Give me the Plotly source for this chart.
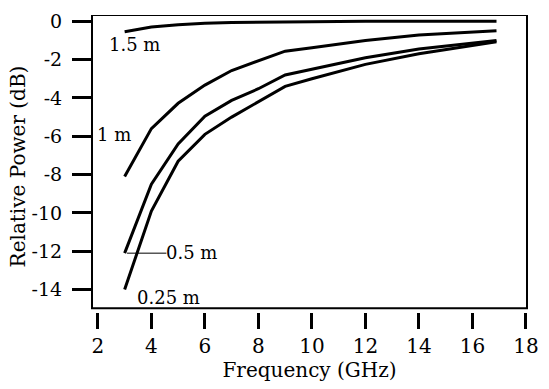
import plotly.graph_objects as go

# Frequencies (GHz) at which the curves were read
freq = [3, 4, 5, 6, 7, 8, 9, 10, 12, 14, 16, 16.9]

# Relative power (dB) for each separation distance
p_025 = [-14.0, -9.9, -7.3, -5.9, -5.0, -4.2, -3.4, -3.0, -2.25, -1.7, -1.28, -1.07]
p_05  = [-12.1, -8.5, -6.4, -4.95, -4.13, -3.52, -2.8, -2.5, -1.9, -1.45, -1.14, -1.0]
p_1   = [-8.1, -5.6, -4.28, -3.33, -2.57, -2.06, -1.56, -1.38, -1.0, -0.72, -0.57, -0.5]
p_15  = [-0.55, -0.3, -0.18, -0.1, -0.06, -0.04, -0.03, -0.02, 0.0, 0.0, 0.0, 0.0]

series = [("0.25 m", p_025), ("0.5 m", p_05), ("1 m", p_1), ("1.5 m", p_15)]

x_ticks = [2, 4, 6, 8, 10, 12, 14, 16, 18]
y_ticks = [0, -2, -4, -6, -8, -10, -12, -14]
y_tick_text = ["0", "-2", "-4", "-6", "-8", "-10", "-12", "-14"]

# curve labels: (text, x, y)
labels = [("1.5 m", 3.35, -1.23), ("1 m", 2.62, -5.9),
          ("0.5 m", 5.49, -12.07), ("0.25 m", 4.65, -14.39)]

FONT = "DejaVu Serif"

fig = go.Figure()
for name, vals in series:
    fig.add_trace(go.Scatter(x=freq, y=vals, mode="lines", name=name,
                             line=dict(color="black", width=3),
                             showlegend=False))

for text, lx, ly in labels:
    fig.add_annotation(x=lx, y=ly, text=text, showarrow=False,
                       font=dict(family=FONT, size=18, color="black"))

# y-axis title placed as rotated text
fig.add_annotation(text="Relative Power (dB)", textangle=-90, showarrow=False,
                   xref="paper", yref="paper", x=-0.168, y=0.49,
                   xanchor="center", yanchor="middle",
                   font=dict(family=FONT, size=20, color="black"))

# leader line for the 0.5 m label
fig.add_shape(type="line", x0=3.09, x1=4.56, y0=-12.1, y1=-12.1,
              line=dict(color="black", width=1))

# plot frame (separated from the x ticks)
fig.add_shape(type="rect", xref="paper", x0=0, x1=1, yref="y",
              y0=-14.98, y1=0.327, line=dict(color="black", width=2),
              layer="above")

fig.update_layout(
    width=549, height=389,
    margin=dict(l=92, r=10, t=13, b=77),
    paper_bgcolor="white", plot_bgcolor="white",
    font=dict(family=FONT, size=20, color="black"),
    xaxis=dict(range=[1.78, 18.04], tickvals=x_ticks, ticks="outside",
               ticklen=16, tickwidth=3, tickcolor="black",
               showgrid=False, zeroline=False, showline=False,
               ticklabeloverflow="allow",
               title=dict(text="Frequency (GHz)", font=dict(size=20), standoff=5),
               tickfont=dict(size=20)),
    yaxis=dict(range=[-15.17, 0.327], tickvals=y_ticks,
               ticktext=[t + "\u00a0" for t in y_tick_text],
               ticks="outside", ticklen=19, tickwidth=3, tickcolor="black",
               showgrid=False, zeroline=False, showline=False,
               tickfont=dict(size=19)),
)

fig.write_html("out.html")
